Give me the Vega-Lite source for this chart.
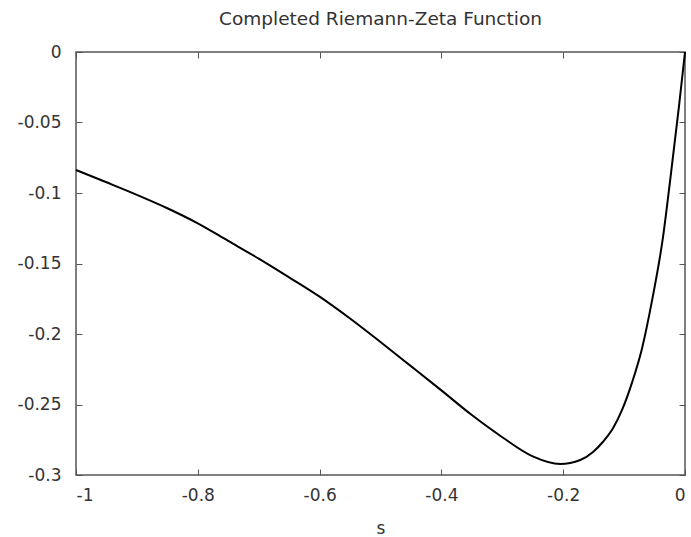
{
  "$schema": "https://vega.github.io/schema/vega-lite/v6.json",
  "width": 609,
  "height": 423,
  "autosize": {"type": "none"},
  "padding": {"left": 76, "top": 52, "right": 6, "bottom": 62},
  "background": "white",
  "title": {
    "text": "Completed Riemann-Zeta Function",
    "font": "DejaVu Sans",
    "fontSize": 18.5,
    "fontWeight": "normal",
    "color": "#333",
    "anchor": "middle",
    "offset": 15
  },
  "data": {
    "values": [
      {"s": -1.0, "v": -0.0837},
      {"s": -0.95, "v": -0.0924},
      {"s": -0.9, "v": -0.1013},
      {"s": -0.85, "v": -0.1108},
      {"s": -0.8, "v": -0.1215},
      {"s": -0.75, "v": -0.134},
      {"s": -0.7, "v": -0.1465},
      {"s": -0.65, "v": -0.1598},
      {"s": -0.6, "v": -0.1735},
      {"s": -0.55, "v": -0.189},
      {"s": -0.5, "v": -0.2057},
      {"s": -0.45, "v": -0.2228},
      {"s": -0.4, "v": -0.24},
      {"s": -0.35, "v": -0.2575},
      {"s": -0.3, "v": -0.2732},
      {"s": -0.25, "v": -0.2868},
      {"s": -0.205, "v": -0.2922},
      {"s": -0.172, "v": -0.2894},
      {"s": -0.151, "v": -0.2837},
      {"s": -0.135, "v": -0.2766},
      {"s": -0.118, "v": -0.2667},
      {"s": -0.103, "v": -0.2535},
      {"s": -0.087, "v": -0.2345},
      {"s": -0.071, "v": -0.211},
      {"s": -0.054, "v": -0.176},
      {"s": -0.036, "v": -0.131},
      {"s": -0.023, "v": -0.086},
      {"s": -0.01, "v": -0.039},
      {"s": 0.0, "v": 0.0}
    ]
  },
  "layer": [
    {
      "mark": {"type": "line", "color": "black", "strokeWidth": 2, "interpolate": "monotone"},
      "encoding": {
        "x": {
          "field": "s", "type": "quantitative",
          "scale": {"domain": [-1, 0], "nice": false, "zero": false},
          "axis": {"orient": "bottom", "values": [-1, -0.8, -0.6, -0.4, -0.2, 0], "format": "~g", "labelPadding": 18, "title": "s", "titlePadding": 17}
        },
        "y": {
          "field": "v", "type": "quantitative",
          "scale": {"domain": [-0.3, 0], "nice": false, "zero": false},
          "axis": {"orient": "left", "values": [0, -0.05, -0.1, -0.15, -0.2, -0.25, -0.3], "format": "~g", "labelPadding": 21, "title": null}
        }
      }
    },
    {
      "mark": {"type": "line", "opacity": 0},
      "encoding": {
        "x": {
          "field": "s", "type": "quantitative",
          "scale": {"domain": [-1, 0], "nice": false, "zero": false},
          "axis": {"orient": "top", "values": [-1, -0.8, -0.6, -0.4, -0.2, 0], "labels": false, "title": null}
        },
        "y": {
          "field": "v", "type": "quantitative",
          "scale": {"domain": [-0.3, 0], "nice": false, "zero": false},
          "axis": {"orient": "right", "values": [0, -0.05, -0.1, -0.15, -0.2, -0.25, -0.3], "labels": false, "title": null}
        }
      }
    }
  ],
  "resolve": {"axis": {"x": "independent", "y": "independent"}},
  "config": {
    "locale": {"number": {"decimal": ".", "thousands": ",", "grouping": [3], "currency": ["$", ""], "minus": "-"}},
    "view": {"stroke": "#555", "strokeWidth": 1.5},
    "axis": {
      "domain": false,
      "grid": false,
      "ticks": true,
      "tickColor": "#555",
      "tickWidth": 1,
      "tickSize": -6,
      "labelFont": "DejaVu Sans",
      "labelFontSize": 17,
      "labelColor": "#333",
      "titleFont": "DejaVu Sans",
      "titleFontSize": 17,
      "titleFontWeight": "normal",
      "titleColor": "#333"
    }
  }
}
